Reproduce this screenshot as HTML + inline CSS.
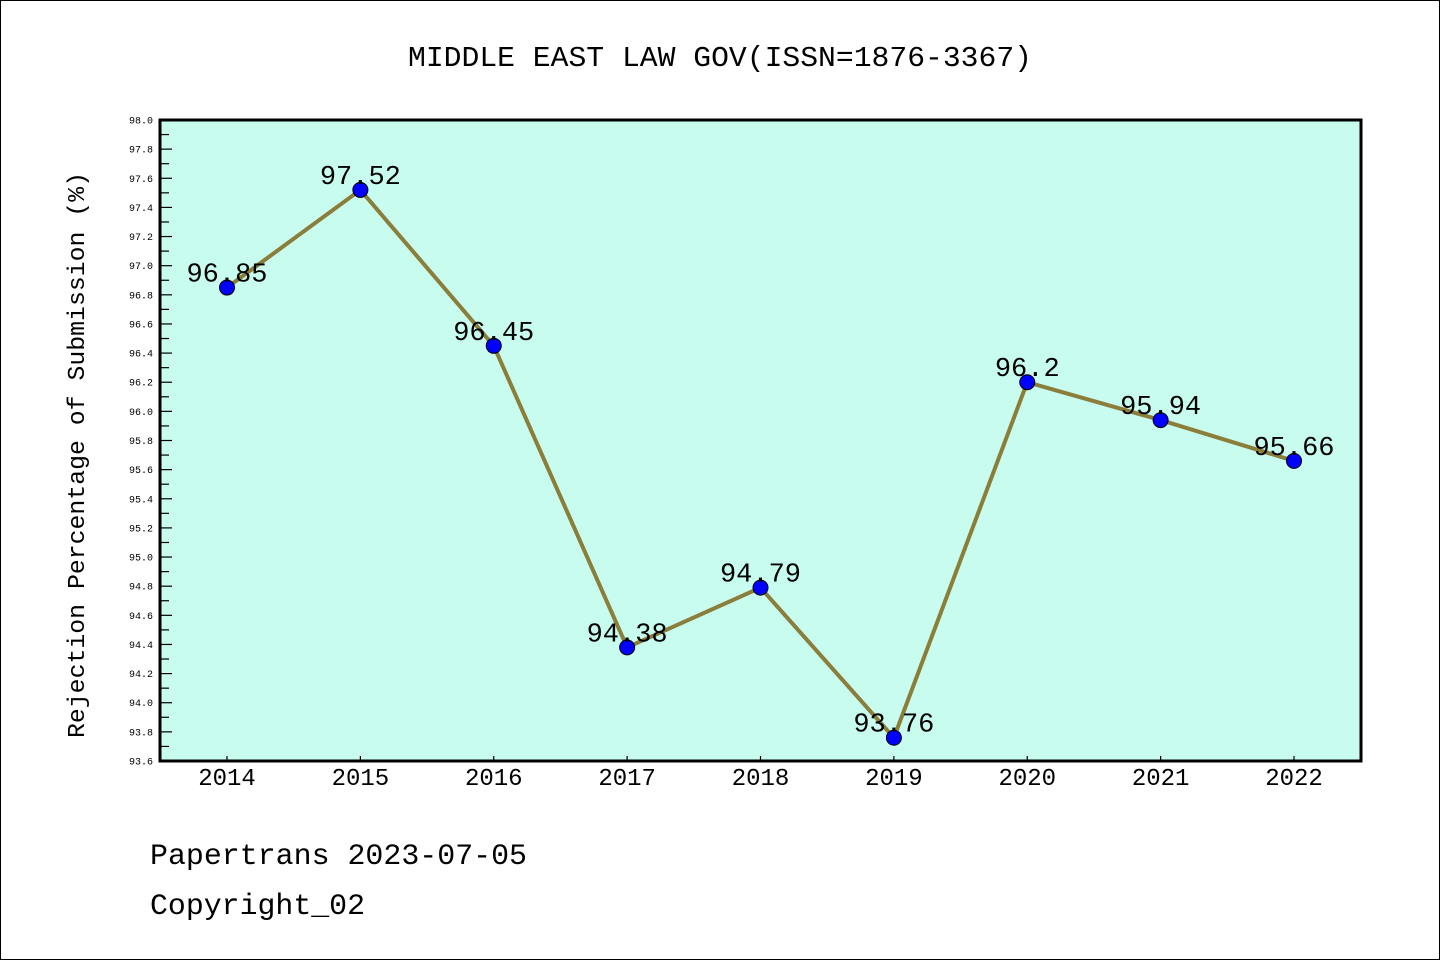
<!DOCTYPE html>
<html><head><meta charset="utf-8"><style>
html,body{margin:0;padding:0;background:#fff}
svg{display:block}
text{font-family:"Liberation Mono","DejaVu Sans Mono",monospace}
</style></head><body>
<svg id="chart" width="1440" height="960" xmlns="http://www.w3.org/2000/svg">
<rect x="0.5" y="0.5" width="1439" height="959" fill="#fff" stroke="#000" stroke-width="1"/>
<text x="720" y="66" font-size="29" text-anchor="middle" textLength="624" lengthAdjust="spacingAndGlyphs">MIDDLE EAST LAW GOV(ISSN=1876-3367)</text>
<rect x="160" y="120" width="1201" height="641" fill="#c8fcee"/>
<g id="yticks"></g><g id="xticks"></g>
<g id="series"></g>
<rect x="160" y="120" width="1201" height="641" fill="none" stroke="#000" stroke-width="3"/>
<text transform="translate(84,455) rotate(-90)" font-size="24" text-anchor="middle" textLength="566" lengthAdjust="spacingAndGlyphs">Rejection Percentage of Submission (%)</text>
<text x="150" y="864" font-size="30" textLength="377" lengthAdjust="spacingAndGlyphs">Papertrans 2023-07-05</text>
<text x="150" y="914" font-size="30" textLength="215" lengthAdjust="spacingAndGlyphs">Copyright_02</text>
</svg>
<script>
const years = ["2014","2015","2016","2017","2018","2019","2020","2021","2022"];
const values = [96.85,97.52,96.45,94.38,94.79,93.76,96.2,95.94,95.66];
const valueLabels = ["96.85","97.52","96.45","94.38","94.79","93.76","96.2","95.94","95.66"];
const yMin = 93.6, yMax = 98.0;
const NS="http://www.w3.org/2000/svg";
const L=160,R=1361,T=120,B=761;
const x=i=>227+i*(1294-227)/(years.length-1);
const y=v=>B-(v-yMin)/(yMax-yMin)*(B-T);
function mk(tag,attrs,parent){const e=document.createElementNS(NS,tag);for(const k in attrs)e.setAttribute(k,attrs[k]);parent.appendChild(e);return e;}
const yt=document.getElementById('yticks');
for(let k=0;k<=44;k++){
  const v=yMin+k*0.1, yy=y(v), major=k%2===0;
  const t=mk('line',{x1:L,x2:L+(major?12:9),y1:yy,y2:yy,stroke:'#000','stroke-width':1.2},yt);
  
  
  if(major){
    const lb=mk('text',{x:153,y:yy+3.5,'font-size':10,'text-anchor':'end'},yt);
    
    
    lb.textContent=v.toFixed(1);
  }
}
const xt=document.getElementById('xticks');
years.forEach((yr,i)=>{
  const t=mk('line',{x1:x(i),x2:x(i),y1:B,y2:B-5,stroke:'#000','stroke-width':1.2},xt);
  
  
  const lb=mk('text',{x:x(i),y:785,'font-size':24,'text-anchor':'middle'},xt);
  
  
  lb.textContent=yr;
});
const s=document.getElementById('series');
const line=mk('polyline',{points:values.map((v,i)=>x(i)+','+y(v)).join(' '),fill:'none',stroke:'#8b7d3a','stroke-width':4,'stroke-linejoin':'miter'},s);


values.forEach((v,i)=>{
  const c=mk('circle',{cx:x(i),cy:y(v),r:7.5,fill:'#0000ff',stroke:'#000','stroke-width':1},s);
  
  
  const t=mk('text',{x:x(i),y:y(v)-6,'font-size':27,'text-anchor':'middle'},s);
  
  
  t.textContent=valueLabels[i];
});
</script>
</body></html>
